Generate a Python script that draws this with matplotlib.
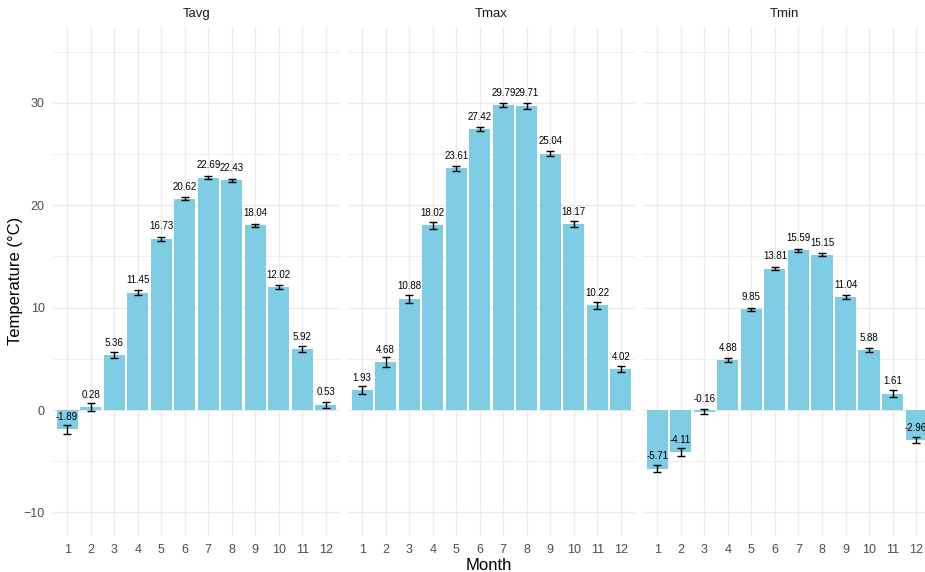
import matplotlib
matplotlib.use("Agg")
import matplotlib.pyplot as plt
import numpy as np

plt.rcParams['font.family'] = ['Liberation Sans', 'DejaVu Sans']

months = list(range(1, 13))
panels = ['Tavg', 'Tmax', 'Tmin']

tavg = [-1.89, 0.28, 5.36, 11.45, 16.73, 20.62, 22.69, 22.43, 18.04, 12.02, 5.92, 0.53]
tmax = [1.93, 4.68, 10.88, 18.02, 23.61, 27.42, 29.79, 29.71, 25.04, 18.17, 10.22, 4.02]
tmin = [-5.71, -4.11, -0.16, 4.88, 9.85, 13.81, 15.59, 15.15, 11.04, 5.88, 1.61, -2.96]

# standard errors
tavg_se = [0.45, 0.40, 0.30, 0.25, 0.20, 0.15, 0.15, 0.15, 0.15, 0.20, 0.30, 0.30]
tmax_se = [0.40, 0.45, 0.40, 0.30, 0.25, 0.20, 0.20, 0.30, 0.25, 0.30, 0.35, 0.30]
tmin_se = [0.35, 0.40, 0.25, 0.20, 0.15, 0.15, 0.15, 0.15, 0.20, 0.20, 0.30, 0.30]

values = {'Tavg': tavg, 'Tmax': tmax, 'Tmin': tmin}
errors = {'Tavg': tavg_se, 'Tmax': tmax_se, 'Tmin': tmin_se}

W, H = 925, 572
fig = plt.figure(figsize=(W / 100, H / 100), dpi=100)

# panel boxes in pixels: left, right
boxes = [(53, 340), (348, 635), (643, 925)]
top, bottom = 27, 536
ylim = (-12.3, 37.4)
grid = '#EBEBEB'
txt = '#4D4D4D'

for i, (name, (x0, x1)) in enumerate(zip(panels, boxes)):
    ax = fig.add_axes([x0 / W, 1 - bottom / H, (x1 - x0) / W, (bottom - top) / H])
    xr = 12.6 if i < 2 else 0.4 + (x1 - x0) / 23.55
    ax.set_xlim(0.4, xr)
    ax.set_ylim(*ylim)
    for s in ax.spines.values():
        s.set_visible(False)
    ax.set_axisbelow(True)
    ax.set_xticks(months)
    ax.set_xticklabels([str(m) for m in months])
    ax.set_yticks([-10, 0, 10, 20, 30])
    ax.set_yticks([-5, 5, 15, 25, 35], minor=True)
    ax.grid(True, which='major', color=grid, lw=1.0)
    ax.grid(True, which='minor', axis='y', color=grid, lw=0.6)
    ax.tick_params(which='both', length=0, colors=txt, labelsize=9, pad=6)
    if i > 0:
        ax.tick_params(axis='y', labelleft=False)

    v = values[name]
    e = errors[name]
    ax.bar(months, v, width=0.9, color='#7FCDE5', zorder=2)
    ax.errorbar(months, v, yerr=e, fmt='none', ecolor='black', elinewidth=1.0,
                capsize=2.8, capthick=1.0, zorder=3)
    for m, val in zip(months, v):
        ax.text(m, val + 1.2, f'{val:.2f}', ha='center', va='center',
                fontsize=7, color='black', zorder=4)

    ax.set_title(name, fontsize=9.5, color='#1A1A1A', pad=7)

fig.text(16 / W, 1 - 281 / H, 'Temperature (°C)', rotation=90, ha='center',
         va='center', fontsize=12, color='black')
fig.text(489 / W, 1 - 565 / H, 'Month', ha='center', va='center',
         fontsize=12, color='black')

plt.savefig('out.png', dpi=100, facecolor='white')
